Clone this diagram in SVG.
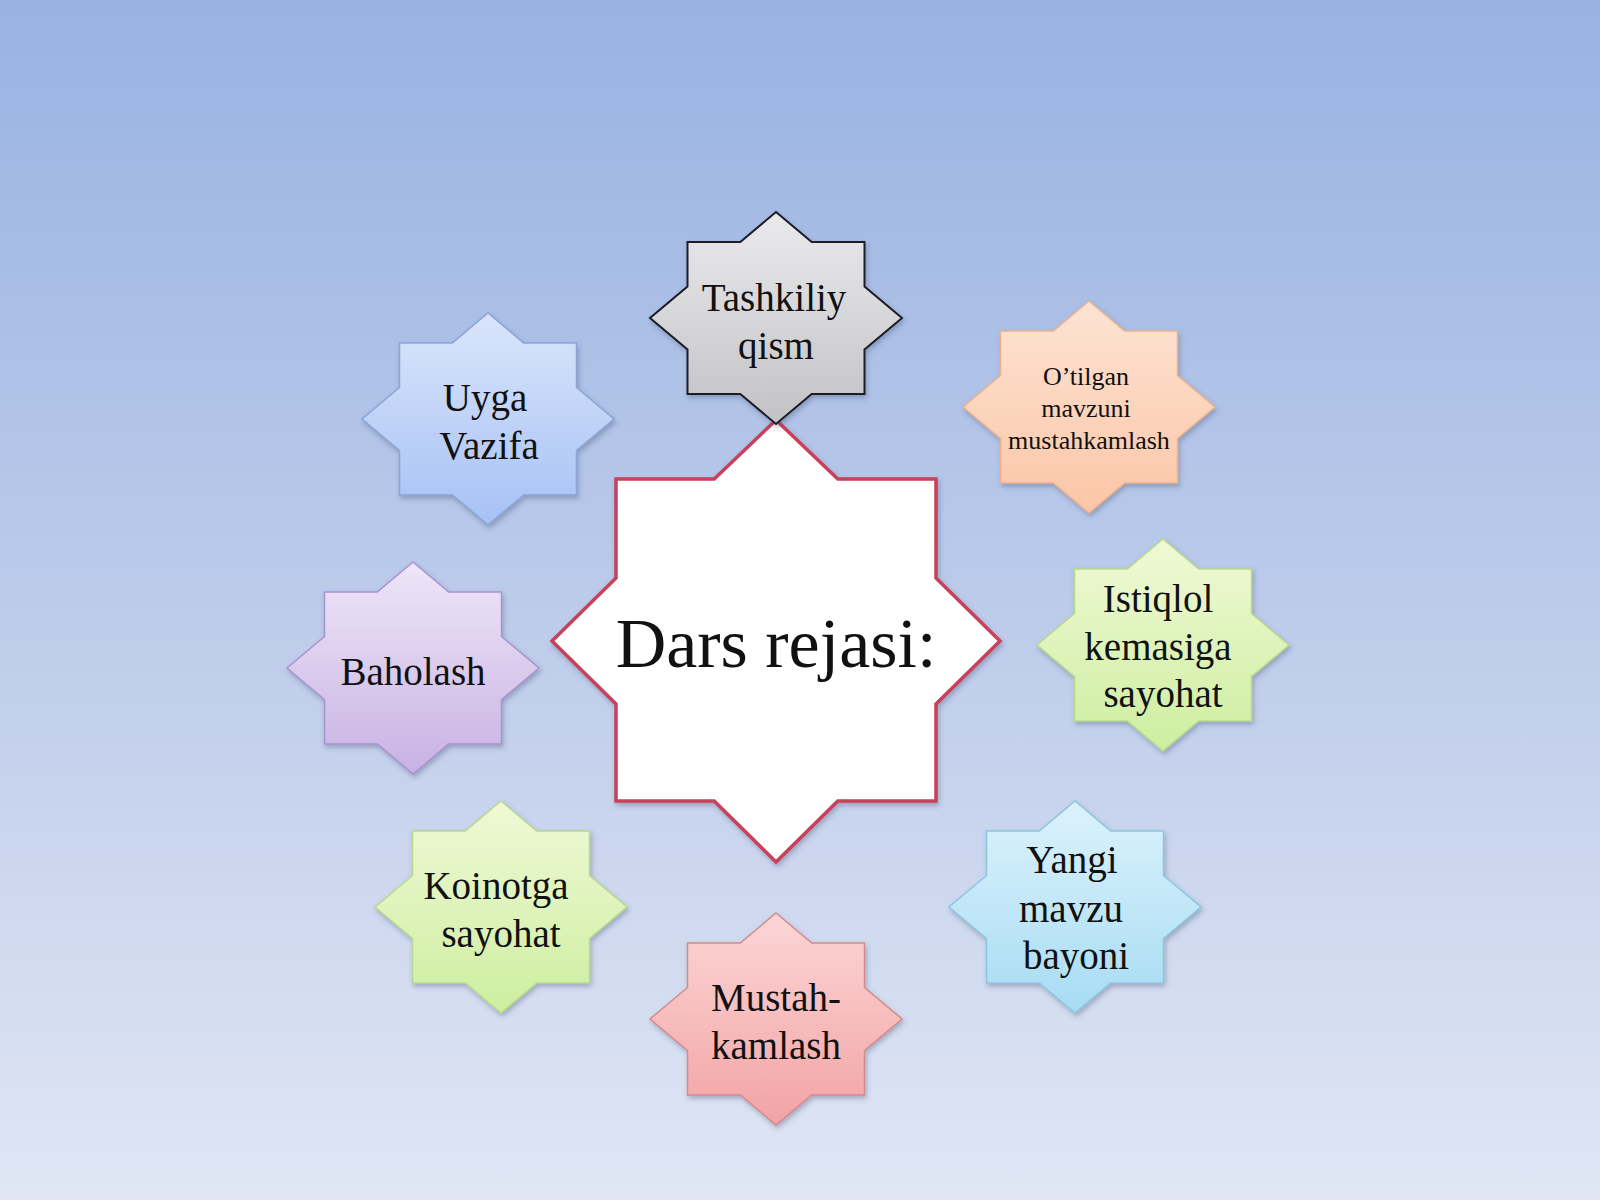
<svg xmlns="http://www.w3.org/2000/svg" xmlns:xlink="http://www.w3.org/1999/xlink" width="1600" height="1200" viewBox="0 0 1600 1200">
<defs>
<linearGradient id="bg" x1="0" y1="0" x2="0" y2="1">
<stop offset="0" stop-color="#98b2e2"/>
<stop offset="0.5" stop-color="#bccbea"/>
<stop offset="1" stop-color="#e0e6f4"/>
</linearGradient>
<linearGradient id="gGray" x1="0" y1="0" x2="0" y2="1"><stop offset="0" stop-color="#eaeaec"/><stop offset="1" stop-color="#c2c2c5"/></linearGradient>
<linearGradient id="gBlue" x1="0" y1="0" x2="0" y2="1"><stop offset="0" stop-color="#dae5fb"/><stop offset="1" stop-color="#a6c1f4"/></linearGradient>
<linearGradient id="gPeach" x1="0" y1="0" x2="0" y2="1"><stop offset="0" stop-color="#fde3d4"/><stop offset="1" stop-color="#fbc6a6"/></linearGradient>
<linearGradient id="gPurple" x1="0" y1="0" x2="0" y2="1"><stop offset="0" stop-color="#efe6f8"/><stop offset="1" stop-color="#c7b2e3"/></linearGradient>
<linearGradient id="gGreen" x1="0" y1="0" x2="0" y2="1"><stop offset="0" stop-color="#f0f9d6"/><stop offset="1" stop-color="#cdeea0"/></linearGradient>
<linearGradient id="gCyan" x1="0" y1="0" x2="0" y2="1"><stop offset="0" stop-color="#dcf2fc"/><stop offset="1" stop-color="#a7dcf3"/></linearGradient>
<linearGradient id="gPink" x1="0" y1="0" x2="0" y2="1"><stop offset="0" stop-color="#fcd6d6"/><stop offset="1" stop-color="#f2a3a4"/></linearGradient>
<filter id="sh" x="-20%" y="-20%" width="140%" height="140%">
<feDropShadow dx="1.5" dy="3" stdDeviation="2.5" flood-color="#3a4a6a" flood-opacity="0.35"/>
</filter>
<path id="star" d="M0,-106 L35.7,-76 L88.5,-76 L88.5,-31.5 L126,0 L88.5,31.5 L88.5,76 L35.7,76 L0,106 L-35.7,76 L-88.5,76 L-88.5,31.5 L-126,0 L-88.5,-31.5 L-88.5,-76 L-35.7,-76 Z"/>
</defs>
<style>
.lbl{font-family:"Liberation Serif","Times New Roman",serif;font-size:39px;fill:#111;text-anchor:middle}
.sm{font-size:26px}
.big{font-family:"Liberation Serif","Times New Roman",serif;font-size:70px;fill:#111;text-anchor:middle}
.st{filter:url(#sh);stroke-width:1.5;stroke-linejoin:miter}
</style>
<rect x="0" y="0" width="1600" height="1200" fill="url(#bg)"/>
<g id="connectors"></g>

<g id="center">
<path d="M776,420 L837.8,479 L936,479 L936,577.9 L1000,641 L936,704.1 L936,801 L837.8,801 L776,862 L714.2,801 L616,801 L616,704.1 L552,641 L616,577.9 L616,479 L714.2,479 Z" fill="#ffffff" stroke="#c8405a" stroke-width="3.5" stroke-linejoin="miter" filter="url(#sh)"/>
<text class="big" x="776" y="667">Dars rejasi:</text>
</g>

<g id="tashkiliy">
<use xlink:href="#star" href="#star" transform="translate(776,318)" class="st" fill="url(#gGray)" stroke="#1c1c28" style="stroke-width:2"/>
<text class="lbl" x="774" y="311">Tashkiliy</text>
<text class="lbl" x="776" y="358.5">qism</text>
</g>

<g id="uyga">
<use xlink:href="#star" href="#star" transform="translate(488,419)" class="st" fill="url(#gBlue)" stroke="#8aa4d6"/>
<text class="lbl" x="485" y="411">Uyga</text>
<text class="lbl" x="489" y="458.5">Vazifa</text>
</g>

<g id="otilgan">
<use xlink:href="#star" href="#star" transform="translate(1089,407)" class="st" fill="url(#gPeach)" stroke="#eeb08a"/>
<text class="lbl sm" x="1086" y="385">O’tilgan</text>
<text class="lbl sm" x="1086" y="417">mavzuni</text>
<text class="lbl sm" x="1089" y="449">mustahkamlash</text>
</g>

<g id="baholash">
<use xlink:href="#star" href="#star" transform="translate(413,668)" class="st" fill="url(#gPurple)" stroke="#a993cf"/>
<text class="lbl" x="413" y="685">Baholash</text>
</g>

<g id="istiqlol">
<use xlink:href="#star" href="#star" transform="translate(1163,645)" class="st" fill="url(#gGreen)" stroke="#b7d98d"/>
<text class="lbl" x="1158" y="612">Istiqlol</text>
<text class="lbl" x="1158" y="659.5">kemasiga</text>
<text class="lbl" x="1163" y="707">sayohat</text>
</g>

<g id="koinotga">
<use xlink:href="#star" href="#star" transform="translate(501,907)" class="st" fill="url(#gGreen)" stroke="#b7d98d"/>
<text class="lbl" x="496" y="899">Koinotga</text>
<text class="lbl" x="501" y="946.5">sayohat</text>
</g>

<g id="yangi">
<use xlink:href="#star" href="#star" transform="translate(1075,907)" class="st" fill="url(#gCyan)" stroke="#8cc5df"/>
<text class="lbl" x="1072" y="873">Yangi</text>
<text class="lbl" x="1071" y="921.5">mavzu</text>
<text class="lbl" x="1076" y="969">bayoni</text>
</g>

<g id="mustah">
<use xlink:href="#star" href="#star" transform="translate(776,1019)" class="st" fill="url(#gPink)" stroke="#d48a8c"/>
<text class="lbl" x="776" y="1011">Mustah-</text>
<text class="lbl" x="776" y="1058.5">kamlash</text>
</g>
</svg>
